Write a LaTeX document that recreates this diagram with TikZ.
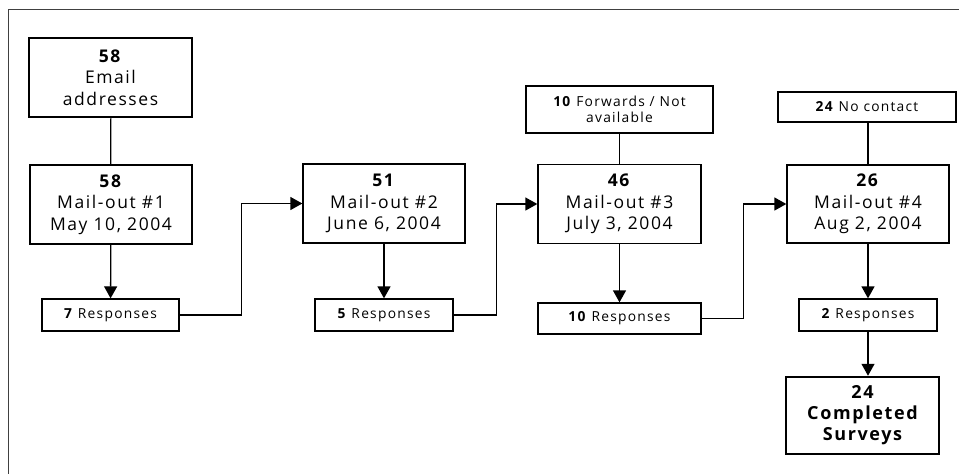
\documentclass[tikz,border=0pt]{standalone}
\usepackage{fontspec}
\setmainfont{Open Sans}[LetterSpace=9]
\usetikzlibrary{arrows.meta}
\begin{document}
\begin{tikzpicture}[x=1pt,y=-1pt,
  box/.style={draw,line width=1.3pt,rectangle,align=center,inner sep=0pt,
    font=\fontsize{17.5}{21.5}\selectfont},
  thickbox/.style={box,line width=2.5pt},
  small/.style={draw,line width=1.3pt,rectangle,align=center,inner sep=0pt,
    font=\fontsize{13.8}{15.5}\selectfont},
  link/.style={line width=1.3pt},
  arr/.style={line width=1.3pt,-{Triangle[length=12pt,width=13pt]}}
]
\useasboundingbox (0,0) rectangle (959,474);
\draw[line width=1pt,black!75] (959,9) -- (8,9) -- (8,474);

\node[thickbox,minimum width=163pt,minimum height=79pt] (email) at (110.5,77.5)
  {\textbf{58}\\Email\\addresses};
\node[box,minimum width=162pt,minimum height=79pt] (m1) at (111,204.5)
  {\textbf{58}\\Mail-out \#1\\May 10, 2004};
\node[small,minimum width=137pt,minimum height=32pt] (r1) at (110.5,315)
  {\textbf{7} Responses};

\node[box,minimum width=162pt,minimum height=79pt] (m2) at (384,203.5)
  {\textbf{51}\\Mail-out \#2\\June 6, 2004};
\node[small,minimum width=138pt,minimum height=32pt] (r2) at (384,315)
  {\textbf{5} Responses};

\node[small,minimum width=187pt,minimum height=47pt] (fw) at (619.5,109.5)
  {\textbf{10} Forwards / Not\\available};
\node[box,minimum width=163pt,minimum height=79pt] (m3) at (619.5,204)
  {\textbf{46}\\Mail-out \#3\\July 3, 2004};
\node[small,minimum width=163pt,minimum height=31pt] (r3) at (619.5,318.5)
  {\textbf{10} Responses};

\node[small,minimum width=178pt,minimum height=30pt] (nc) at (867,107)
  {\textbf{24} No contact};
\node[box,minimum width=162pt,minimum height=78pt] (m4) at (868,204)
  {\textbf{26}\\Mail-out \#4\\Aug 2, 2004};
\node[small,minimum width=138pt,minimum height=32pt] (r4) at (868,315)
  {\textbf{2} Responses};
\node[thickbox,minimum width=153pt,minimum height=77pt,font=\fontsize{18}{21}\selectfont\bfseries] (done) at (862.5,415.5)
  {24\\Completed\\Surveys};

\draw[link] (email) -- (m1);
\draw[link] (fw) -- (m3);
\draw[link] (nc.south -| m4.north) -- (m4.north);

\draw[arr] (m1) -- (r1);
\draw[arr] (m2) -- (r2);
\draw[arr] (m3) -- (r3);
\draw[arr] (m4) -- (r4);
\draw[arr] (r4.south) -- (r4.south |- done.north);

\draw[arr] (r1.east) -- ++(62,0) |- (m2.west);
\draw[arr] (r2.east) -- ++(43,0) |- (m3.west);
\draw[arr] (r3.east) -- ++(42,0) |- (m4.west);
\end{tikzpicture}
\end{document}
